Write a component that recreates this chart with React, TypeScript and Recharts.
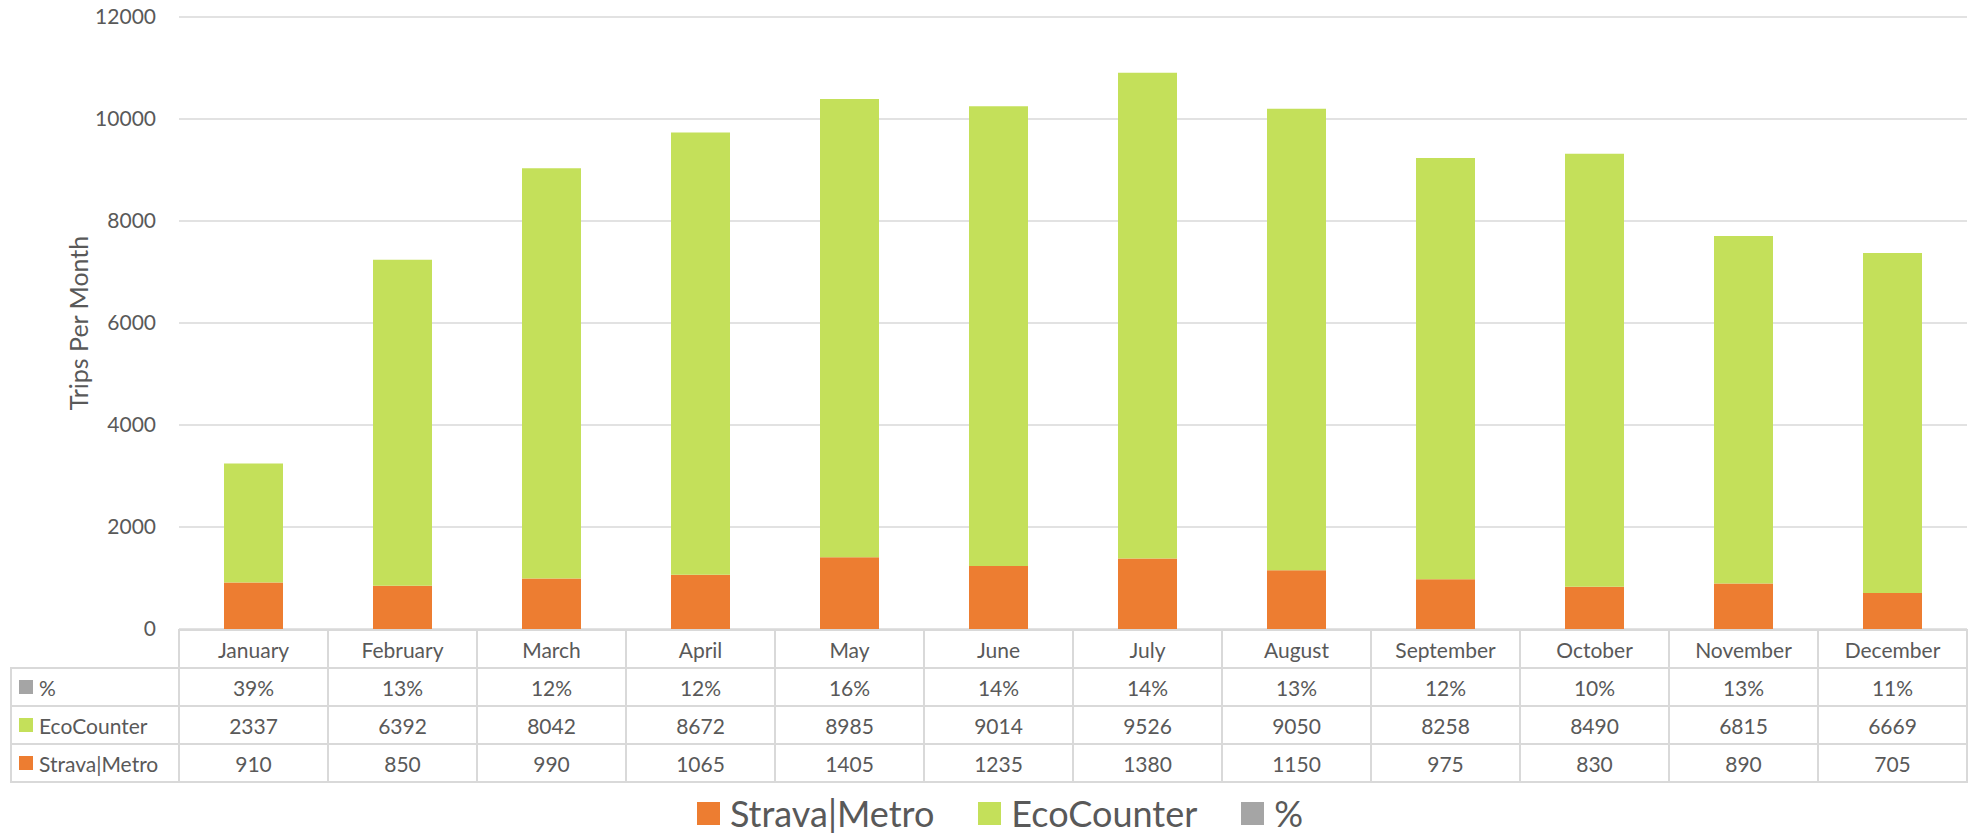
import React from 'react';
import { BarChart, Bar, XAxis, YAxis, CartesianGrid, Label } from 'recharts';

const months = ['January', 'February', 'March', 'April', 'May', 'June', 'July', 'August', 'September', 'October', 'November', 'December'];
const stravaMetro = [910, 850, 990, 1065, 1405, 1235, 1380, 1150, 975, 830, 890, 705];
const ecoCounter = [2337, 6392, 8042, 8672, 8985, 9014, 9526, 9050, 8258, 8490, 6815, 6669];
const pctLabels = ['39%', '13%', '12%', '12%', '16%', '14%', '14%', '13%', '12%', '10%', '13%', '11%'];
const yTicks = [0, 2000, 4000, 6000, 8000, 10000, 12000];

const COLORS = {
  strava: '#ED7D31',
  eco: '#C4E05A',
  pct: '#A5A5A5',
  grid: '#D9D9D9',
  text: '#595959',
};

const FONT = 'Lato, "Open Sans", sans-serif';
const W = 1974;
const H = 835;
const PLOT_LEFT = 179;
const PLOT_RIGHT = 1967;
const COL_W = (PLOT_RIGHT - PLOT_LEFT) / months.length;
const TABLE_TOP = 630;
const ROW_H = 38;
const LABEL_LEFT = 11;

const chartData = months.map((m, i) => ({
  month: m,
  strava: stravaMetro[i],
  eco: ecoCounter[i],
}));

// rows under the header: [label, color, values]
const tableRows = [
  { name: '%', color: COLORS.pct, values: pctLabels },
  { name: 'EcoCounter', color: COLORS.eco, values: ecoCounter.map(String) },
  { name: 'Strava|Metro', color: COLORS.strava, values: stravaMetro.map(String) },
];

function TableTick(props: any) {
  const { x, payload } = props;
  const i = months.indexOf(payload.value);
  const left = x - COL_W / 2;
  const cellStyle = { fill: 'none', stroke: COLORS.grid, strokeWidth: 2 };
  return (
    <g>
      <rect x={left} y={TABLE_TOP} width={COL_W} height={ROW_H} style={cellStyle} />
      <text x={x} y={TABLE_TOP + ROW_H / 2} textAnchor="middle" dominantBaseline="central" fill={COLORS.text} fontSize={21}>
        {payload.value}
      </text>
      {tableRows.map((r, k) => {
        const top = TABLE_TOP + ROW_H * (k + 1);
        return (
          <g key={r.name}>
            <rect x={left} y={top} width={COL_W} height={ROW_H} style={cellStyle} />
            <text x={x} y={top + ROW_H / 2} textAnchor="middle" dominantBaseline="central" fill={COLORS.text} fontSize={21}>
              {r.values[i]}
            </text>
          </g>
        );
      })}
      {i === 0 &&
        tableRows.map((r, k) => {
          const top = TABLE_TOP + ROW_H * (k + 1);
          return (
            <g key={'lbl' + r.name}>
              <rect x={LABEL_LEFT} y={top} width={left - LABEL_LEFT} height={ROW_H} style={cellStyle} />
              <rect x={19} y={top + ROW_H / 2 - 7} width={14} height={14} fill={r.color} />
              <text x={39} y={top + ROW_H / 2} textAnchor="start" dominantBaseline="central" fill={COLORS.text} fontSize={21}>
                {r.name}
              </text>
            </g>
          );
        })}
    </g>
  );
}

const legendItems = [
  { name: 'Strava|Metro', color: COLORS.strava },
  { name: 'EcoCounter', color: COLORS.eco },
  { name: '%', color: COLORS.pct },
];

export default function App() {
  return (
    <div style={{ position: 'absolute', left: 0, top: 0, width: W, height: H, background: '#fff', fontFamily: FONT, overflow: 'hidden' }}>
      <BarChart width={W} height={H} data={chartData} margin={{ top: 17, right: W - PLOT_RIGHT, bottom: 30, left: 0 }}>
        <CartesianGrid vertical={false} stroke={COLORS.grid} strokeWidth={1.5} />
        <XAxis
          dataKey="month"
          height={176}
          axisLine={false}
          tickLine={false}
          interval={0}
          tick={<TableTick />}
        />
        <YAxis
          width={PLOT_LEFT}
          domain={[0, 12000]}
          ticks={yTicks}
          axisLine={false}
          tickLine={false}
          tickSize={21}
          tick={{ fill: COLORS.text, fontSize: 21 }}
        >
          <Label
            value="Trips Per Month"
            angle={-90}
            position="insideLeft"
            offset={79}
            style={{ textAnchor: 'middle', fill: COLORS.text, fontSize: 25 }}
          />
        </YAxis>
        <Bar dataKey="strava" name="Strava|Metro" stackId="a" fill={COLORS.strava} barSize={59} isAnimationActive={false} />
        <Bar dataKey="eco" name="EcoCounter" stackId="a" fill={COLORS.eco} barSize={59} isAnimationActive={false} />
      </BarChart>
      <div
        style={{
          position: 'absolute',
          left: 13,
          top: 794,
          width: W,
          height: 38,
          display: 'flex',
          justifyContent: 'center',
          alignItems: 'center',
          color: COLORS.text,
          fontSize: 36,
          lineHeight: 1,
        }}
      >
        {legendItems.map((it) => (
          <div key={it.name} style={{ display: 'flex', alignItems: 'center', margin: '0 22px' }}>
            <span style={{ display: 'inline-block', width: 23, height: 23, background: it.color, marginRight: 10 }} />
            <span>{it.name}</span>
          </div>
        ))}
      </div>
    </div>
  );
}
